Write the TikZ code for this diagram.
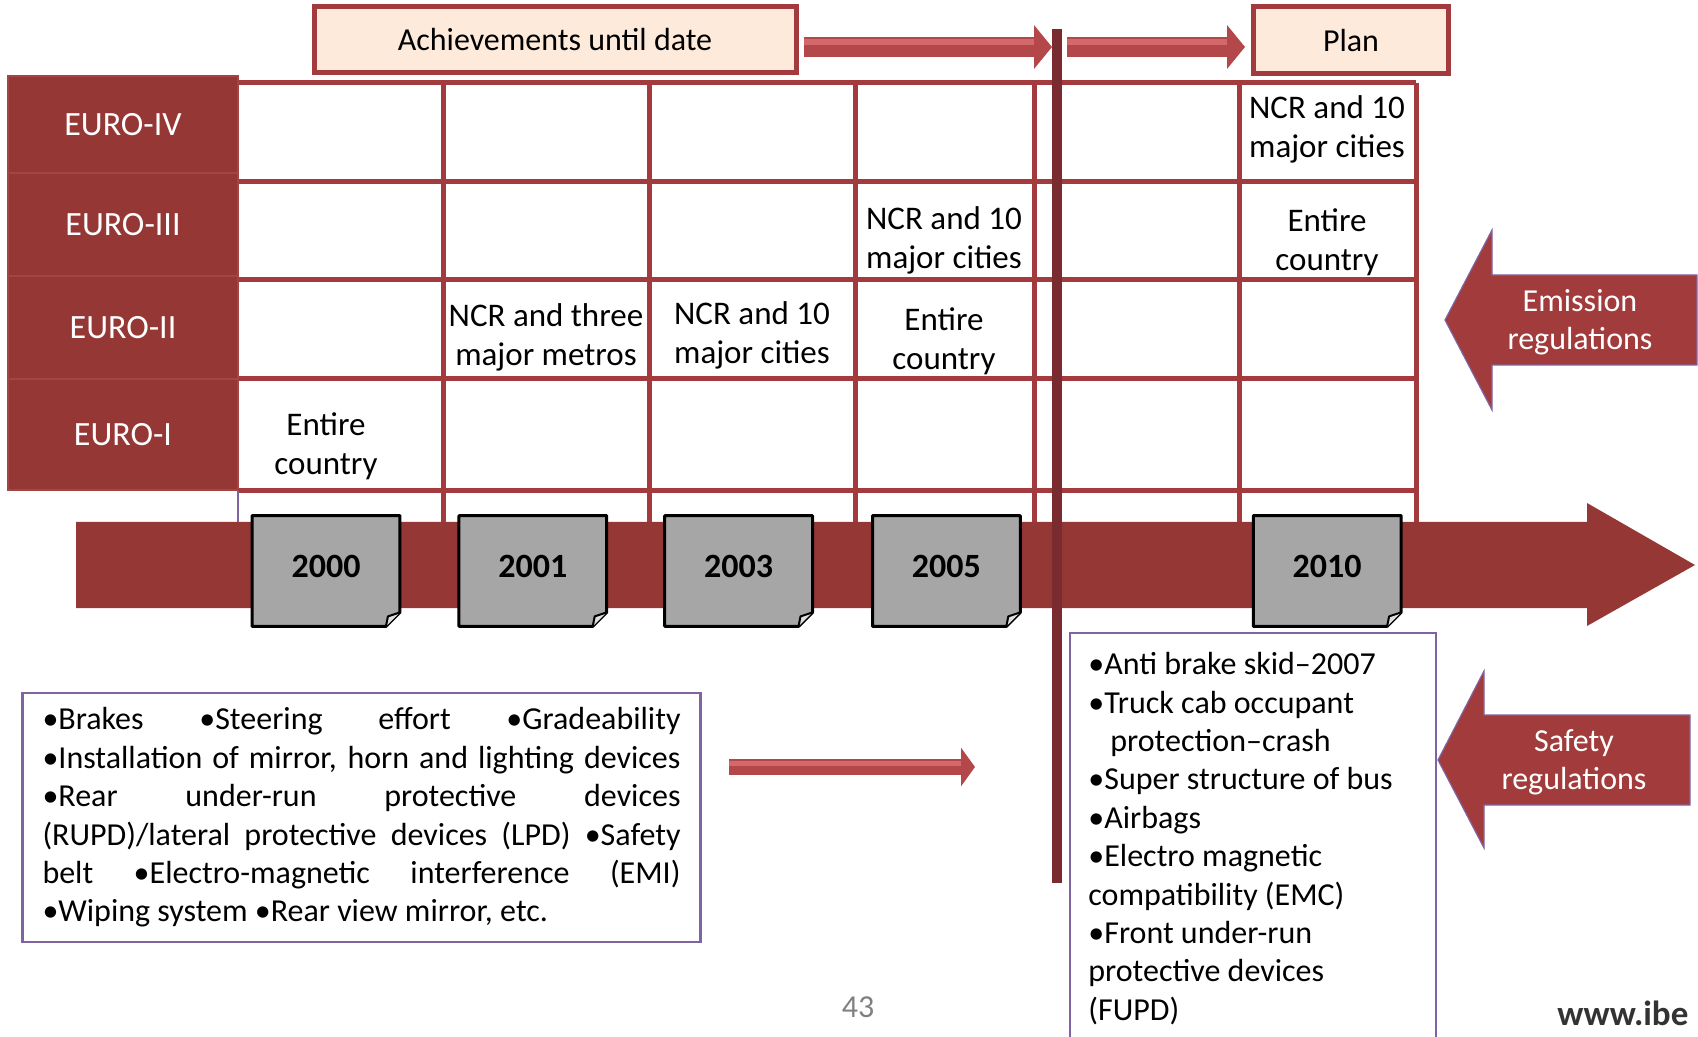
\documentclass[tikz,border=0pt]{standalone}
\usepackage{fontspec}
\setmainfont{Carlito}
\usepackage{tikz}
\usetikzlibrary{arrows.meta, positioning, calc}

\definecolor{bandred}{HTML}{953735}
\definecolor{sepred}{HTML}{A54543}
\definecolor{gridred}{HTML}{A33B3E}
\definecolor{arrowred}{HTML}{B4474A}
\definecolor{arrowlight}{HTML}{D4686A}
\definecolor{blockred}{HTML}{A23B3B}
\definecolor{barred}{HTML}{7A2B30}
\definecolor{peach}{HTML}{FDEADA}
\definecolor{notegray}{HTML}{A6A6A6}
\definecolor{framepurple}{HTML}{8064A2}

\newcommand{\txtsize}{\fontsize{16}{19.2}\selectfont}
\newcommand{\cellsize}{\fontsize{16.5}{19.5}\selectfont}

\begin{document}
\begin{tikzpicture}[x=0.5pt, y=-0.5pt,
    head box/.style={draw=gridred, line width=2.5pt, fill=peach, inner sep=0pt, font=\txtsize},
    euro node/.style={fill=bandred, draw=sepred, line width=1pt, outer sep=0pt, text=white, minimum width=115pt, inner sep=0pt, text depth=-1.5pt, font=\fontsize{17}{20}\selectfont},
    cell text/.style={align=center, font=\cellsize},
    year node/.style={fill=notegray, minimum width=73.5pt, minimum height=55pt, text depth=5pt, inner sep=0pt, font=\bfseries\fontsize{17}{20}\selectfont},
    grid line/.style={gridred, line width=2.5pt},
    thin arrow/.style={arrowred, line width=10pt, -{Triangle[length=9pt, width=21.5pt]}},
    arrow glint/.style={arrowlight, line width=3pt, shorten >=9pt, transform canvas={yshift=2.5pt}},
    block arrow/.style={fill=blockred, draw=framepurple, line width=0.6pt},
    frame box/.style={draw=framepurple, line width=1.2pt}]
\useasboundingbox (0,0) rectangle (1698,1037);

\foreach \x in {443,649,855,1034,1239,1416}
    \draw[grid line] (\x,83) -- (\x,522);
\foreach \y in {83,182,280,379,491}
    \draw[grid line] (238,\y) -- (1416,\y);
\draw[framepurple, line width=0.8pt] (238,491) -- (238,522);

\node[euro node, minimum height=48.5pt, anchor=north west] (e4) at (8,76) {EURO-IV};
\node[euro node, minimum height=51.5pt, below=0pt of e4] (e3) {EURO-III};
\node[euro node, minimum height=51.5pt, below=0pt of e3] (e2) {EURO-II};
\node[euro node, minimum height=55.5pt, below=0pt of e2] (e1) {EURO-I};

\node[cell text] (c1) at (326,446) {Entire\\country};
\node[cell text] (c2) at (546,337) {NCR and three\\major metros};
\node[cell text] (c3) at (752,335) {NCR and 10\\major cities};
\node[cell text] (c4) at (944,240) {NCR and 10\\major cities};
\node[cell text] (c5) at (944,341) {Entire\\country};
\node[cell text] (c6) at (1327,129) {NCR and 10\\major cities};
\node[cell text] (c7) at (1327,242) {Entire\\country};

\fill[bandred] (76,522) -- (1587,522) -- (1587,503) -- (1695,565) -- (1587,626) -- (1587,608) -- (76,608) -- cycle;

\node[year node] (y2000) at (326,571) {2000};
\node[year node, right=29.5pt of y2000] (y2001) {2001};
\node[year node, right=29pt of y2001] (y2003) {2003};
\node[year node, right=30pt of y2003] (y2005) {2005};
\node[year node, right=116.5pt of y2005] (y2010) {2010};
\foreach \n in {y2000,y2001,y2003,y2005,y2010}{
    \fill[white] ([yshift=7pt]\n.south east) -- (\n.south east) -- ([xshift=-7pt]\n.south east) -- cycle;
    \draw[line width=1.5pt, line join=round] (\n.north west) -- (\n.north east) -- ([yshift=7pt]\n.south east)
        -- ([xshift=-7pt]\n.south east) -- (\n.south west) -- cycle;
    \draw[line width=1pt, line join=round, fill=gray!25] ([xshift=-7pt]\n.south east) -- ([xshift=-6pt,yshift=5pt]\n.south east)
        -- ([yshift=7pt]\n.south east);
}

\coordinate (bartop) at (1057,29);
\coordinate (barbot) at (1057,883);
\draw[barred, line width=5pt] (bartop) -- (barbot);

\node[head box, minimum width=241pt, minimum height=33pt] (ach) at (555,40) {Achievements until date};
\node[head box, minimum width=97.5pt, minimum height=33.5pt] (plan) at (1351,40.5) {Plan};

\coordinate (b1) at (1052,47);
\coordinate (b2) at (1067,47);
\draw[thin arrow] ($(ach.east |- b1)+(5,0)$) -- (b1);
\draw[arrow glint] ($(ach.east |- b1)+(5,0)$) -- (b1);
\draw[thin arrow] (b2) -- ($(plan.west |- b2)+(-6,0)$);
\draw[arrow glint] (b2) -- ($(plan.west |- b2)+(-6,0)$);

\draw[block arrow] (1445,320) -- (1492,230) -- (1492,275) -- (1697,275) -- (1697,365) -- (1492,365) -- (1492,410) -- cycle;
\node[align=center, text=white, font=\txtsize] (emis) at (1580,322) {Emission\\regulations};

\node[frame box, text width=319pt, inner xsep=10pt, inner ysep=0pt, minimum height=124.5pt, align=justify, font=\txtsize] (lbox) at (361.5,817.5)
    {•Brakes •Steering effort •Gradeability\linebreak
     •Installation of mirror, horn and lighting devices\linebreak
     •Rear under-run protective devices\linebreak
     (RUPD)/lateral protective devices (LPD) •Safety\linebreak
     belt •Electro-magnetic interference (EMI)\linebreak
     •Wiping system •Rear view mirror, etc.};

\coordinate (m1) at (729,767);
\coordinate (m2) at (975,767);
\draw[arrowred, line width=8pt, -{Triangle[length=7pt, width=19pt]}] (m1) -- (m2);
\draw[arrowlight, line width=2.5pt, shorten >=7pt, transform canvas={yshift=2pt}] (m1) -- (m2);

\node[frame box, anchor=north west, minimum width=183pt, minimum height=215pt] (rbox) at (1069,632) {};
\node[anchor=north west, align=left, inner sep=0pt, font=\txtsize] (rtext) at ([xshift=9.5pt,yshift=-10pt]rbox.north west)
    {•Anti brake skid--2007\\
     •Truck cab occupant\\
     \hspace*{11pt}protection--crash\\
     •Super structure of bus\\
     •Airbags\\
     •Electro magnetic\\
     compatibility (EMC)\\
     •Front under-run\\
     protective devices\\
     (FUPD)};

\draw[block arrow] (1438,760) -- (1484,671) -- (1484,715) -- (1690,715) -- (1690,805) -- (1484,805) -- (1484,848) -- cycle;
\node[align=center, text=white, font=\txtsize] (safe) at (1574,762) {Safety\\regulations};

\node[text=gray, font=\txtsize] (page) at (858,1007) {43};
\node[text=black!80, font=\bfseries\fontsize{17.5}{20}\selectfont, anchor=west, inner sep=0pt] (web) at (1557,1013) {www.ibe};
\end{tikzpicture}
\end{document}
